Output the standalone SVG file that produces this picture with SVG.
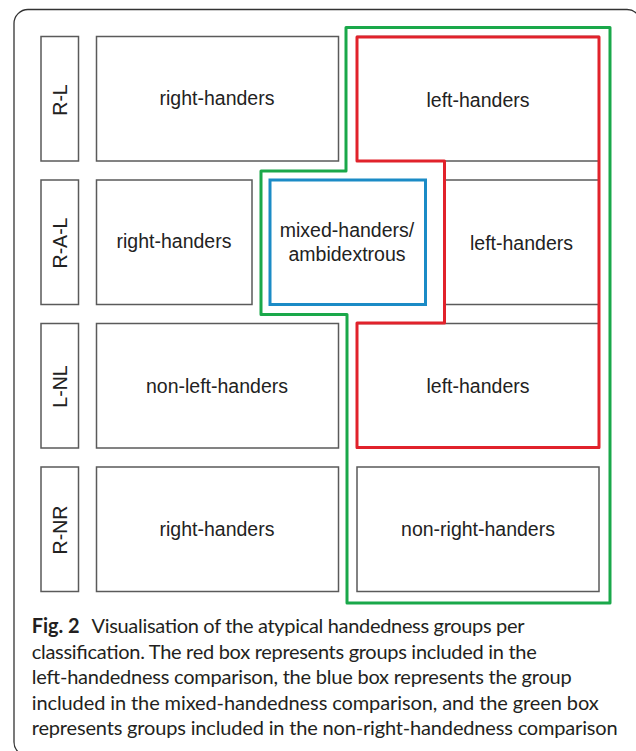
<svg xmlns="http://www.w3.org/2000/svg" width="636" height="751" viewBox="0 0 636 751">
<style>
.box{fill:none;stroke:#5a5a5a;stroke-width:1.5}
.t{font-family:"Liberation Sans",Arial,sans-serif;font-size:19.5px;fill:#222;text-anchor:middle}
.cap{font-family:Lato,"Open Sans",sans-serif;font-size:20px;fill:#231f20}
.red{fill:none;stroke:#e1222b;stroke-width:3;stroke-linejoin:round}
.green{fill:none;stroke:#1aa84a;stroke-width:3;stroke-linejoin:round}
.blue{fill:none;stroke:#1b8bc6;stroke-width:3}
</style>
<rect x="0" y="0" width="636" height="751" fill="#fff"/>
<rect id="frame" x="14" y="9.5" width="627" height="746.5" rx="14" fill="none" stroke="#333" stroke-width="1.3"/>
<g id="label-RL"><rect class="box" x="41" y="36.5" width="37.5" height="124.5"/><text class="t" transform="translate(67,100) rotate(-90)">R-L</text></g>
<g id="label-RAL"><rect class="box" x="41" y="180" width="37.5" height="124.5"/><text class="t" transform="translate(67,243) rotate(-90)">R-A-L</text></g>
<g id="label-LNL"><rect class="box" x="41" y="323.5" width="37.5" height="124.5"/><text class="t" transform="translate(67,386.5) rotate(-90)">L-NL</text></g>
<g id="label-RNR"><rect class="box" x="41" y="467" width="37.5" height="124.5"/><text class="t" transform="translate(67,530) rotate(-90)">R-NR</text></g>
<g id="r1-right"><rect class="box" x="96.5" y="36.5" width="242" height="124.5"/><text class="t" x="217" y="105">right-handers</text></g>
<g id="r1-left"><rect class="box" x="357" y="36.5" width="242" height="124.5"/><text class="t" x="478" y="106.5">left-handers</text></g>
<g id="r2-right"><rect class="box" x="96.5" y="180" width="155.5" height="124.5"/><text class="t" x="174" y="248">right-handers</text></g>
<g id="r2-mixed"><rect class="box" x="270" y="180" width="155.5" height="124.5"/><text class="t" x="347" y="237">mixed-handers/</text><text class="t" x="347" y="261">ambidextrous</text></g>
<g id="r2-left"><rect class="box" x="444" y="180" width="155" height="124.5"/><text class="t" x="521.5" y="250">left-handers</text></g>
<g id="r3-nonleft"><rect class="box" x="96.5" y="323.5" width="242" height="124.5"/><text class="t" x="217" y="393">non-left-handers</text></g>
<g id="r3-left"><rect class="box" x="357" y="323.5" width="242" height="124.5"/><text class="t" x="478" y="393">left-handers</text></g>
<g id="r4-right"><rect class="box" x="96.5" y="467" width="242" height="124.5"/><text class="t" x="217" y="535.5">right-handers</text></g>
<g id="r4-nonright"><rect class="box" x="357" y="467" width="242" height="124.5"/><text class="t" x="478" y="535.5">non-right-handers</text></g>
<g id="groups">
<path class="green" d="M346,27.5 H610 V603 H347 V314.5 H261 V171 H346 Z"/>
<path class="red" d="M357,37 H599 V447.5 H357 V323 H444.5 V161 H357 Z"/>
<rect class="blue" x="270" y="180" width="155.5" height="124.5"/>
</g>
<g id="caption" class="cap">
<text x="31.7" y="633" font-weight="bold" textLength="48" lengthAdjust="spacingAndGlyphs">Fig. 2</text>
<text x="91.5" y="633" textLength="433" lengthAdjust="spacing">Visualisation of the atypical handedness groups per</text>
<text x="31.7" y="658.5" textLength="505" lengthAdjust="spacing">classification. The red box represents groups included in the</text>
<text x="31.7" y="684" textLength="540" lengthAdjust="spacing">left-handedness comparison, the blue box represents the group</text>
<text x="31.7" y="709.5" textLength="567" lengthAdjust="spacing">included in the mixed-handedness comparison, and the green box</text>
<text x="31.7" y="735" textLength="586" lengthAdjust="spacing">represents groups included in the non-right-handedness comparison</text>
</g>
</svg>
